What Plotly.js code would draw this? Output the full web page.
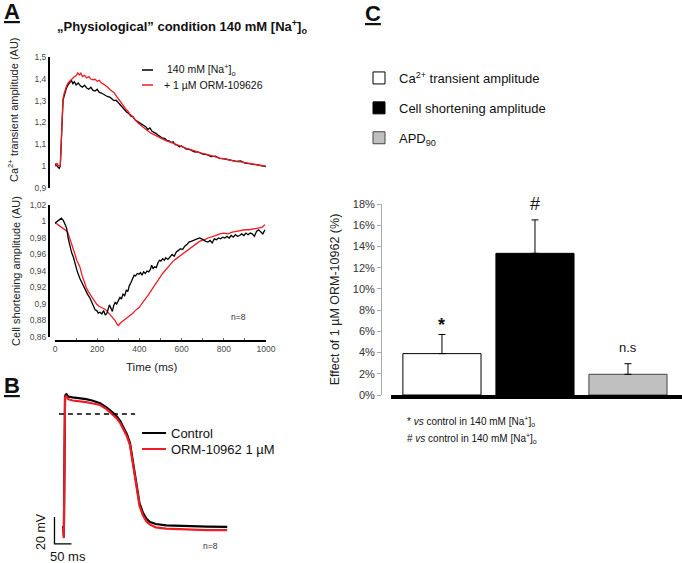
<!DOCTYPE html>
<html><head><meta charset="utf-8">
<script src="https://cdn.plot.ly/plotly-3.0.1.min.js"></script>
<style>html,body{margin:0;padding:0;background:#fff}#chart{width:682px;height:563px}</style>
</head><body><div id="chart"></div>
<script>
// ---------- Panel A: Ca2+ transient (AU) ----------
const caTime = [0,5,10,15,20,25,28,31,34,38,43,48,55,62,70,78,85,92,100,110,120,130,140,150,160,170,180,190,200,210,220,230,240,250,260,270,280,290,300,310,320,330,340,350,360,370,380,390,400,410,420,430,440,450,460,470,480,490,500,510,520,530,540,550,560,570,580,590,600,620,640,660,680,700,720,740,760,780,800,820,840,860,880,900,920,940,960,980,1000];
const caControl = [1.00,1.012,1.0,0.995,0.99,1.0,1.08,1.18,1.26,1.30,1.32,1.34,1.36,1.372,1.385,1.392,1.378,1.387,1.372,1.381,1.368,1.362,1.371,1.358,1.352,1.361,1.347,1.344,1.352,1.338,1.335,1.329,1.326,1.318,1.316,1.309,1.30,1.302,1.29,1.28,1.268,1.259,1.247,1.241,1.229,1.226,1.211,1.205,1.198,1.192,1.184,1.181,1.168,1.175,1.16,1.156,1.149,1.141,1.136,1.128,1.127,1.118,1.116,1.108,1.112,1.098,1.096,1.089,1.092,1.079,1.076,1.066,1.064,1.055,1.053,1.044,1.046,1.036,1.034,1.031,1.026,1.022,1.024,1.014,1.012,1.009,1.006,1.001,0.998];
const caDrugTime = [0,5,10,15,20,25,28,31,34,38,43,48,55,62,70,78,85,92,100,108,115,122,130,140,150,160,170,180,190,200,210,220,230,240,250,261,270,280,293,305,315,325,335,345,355,365,375,385,395,405,415,425,435,445,455,465,475,485,495,510,525,540,555,570,585,600,620,640,660,680,700,720,740,760,780,800,820,840,860,880,900,920,940,960,980,1000];
const caDrug = [1.0,1.006,1.012,1.004,1.0,1.002,1.09,1.2,1.28,1.31,1.332,1.35,1.368,1.381,1.389,1.396,1.402,1.41,1.414,1.427,1.418,1.426,1.41,1.416,1.404,1.41,1.399,1.396,1.398,1.389,1.393,1.381,1.376,1.37,1.361,1.35,1.344,1.336,1.318,1.302,1.287,1.275,1.262,1.253,1.238,1.23,1.216,1.207,1.196,1.188,1.178,1.171,1.162,1.158,1.151,1.146,1.139,1.136,1.13,1.124,1.117,1.112,1.106,1.101,1.097,1.09,1.083,1.077,1.07,1.066,1.058,1.054,1.048,1.043,1.037,1.035,1.03,1.027,1.021,1.02,1.016,1.012,1.008,1.004,1.003,1.0];
const caTickVals = [0.9,1.0,1.1,1.2,1.3,1.4,1.5];
const caTickText = ['0,9','1','1,1','1,2','1,3','1,4','1,5'];

// ---------- Panel A: cell shortening (AU) ----------
const csTime = [0,10,20,30,40,48,55,62,71,79,87,96,106,118,130,142,154,166,178,190,198,205,213,222,230,238,245,252,258,265,272,278,285,292,300,308,315,322,330,338,345,352,360,368,375,382,390,398,405,412,420,428,436,444,452,458,465,472,480,488,495,502,510,518,525,535,545,555,565,575,585,595,605,615,625,635,645,655,665,675,685,695,705,715,725,735,745,755,765,775,785,795,805,815,825,835,845,855,865,875,885,895,905,915,925,935,945,955,965,975,985,995];
const csControl = [0.998,1.0,1.002,1.004,1.001,0.996,0.992,0.98,0.969,0.962,0.957,0.948,0.939,0.931,0.924,0.917,0.912,0.907,0.9,0.893,0.892,0.889,0.89,0.888,0.892,0.887,0.888,0.894,0.899,0.895,0.891,0.898,0.902,0.9,0.905,0.908,0.906,0.912,0.91,0.917,0.915,0.922,0.926,0.93,0.935,0.934,0.937,0.936,0.938,0.935,0.939,0.937,0.94,0.939,0.942,0.947,0.943,0.945,0.944,0.95,0.953,0.952,0.955,0.953,0.956,0.954,0.957,0.96,0.958,0.963,0.965,0.967,0.966,0.97,0.972,0.975,0.976,0.977,0.978,0.979,0.98,0.979,0.977,0.976,0.975,0.977,0.974,0.979,0.978,0.98,0.979,0.981,0.98,0.982,0.98,0.983,0.981,0.984,0.982,0.983,0.985,0.983,0.986,0.984,0.986,0.985,0.982,0.988,0.99,0.987,0.985,0.99];
const csDrugTime = [0,10,20,30,40,50,58,63,70,78,86,95,103,110,118,128,138,148,158,170,183,197,210,222,235,245,255,265,276,285,293,300,310,320,330,340,350,360,370,380,390,400,410,420,430,440,450,460,470,480,490,500,510,520,530,545,560,575,590,605,620,635,650,665,680,695,710,725,740,760,780,800,820,840,860,880,900,920,940,960,980,995];
const csDrug = [0.998,0.997,0.995,0.993,0.991,0.989,0.988,0.985,0.98,0.974,0.969,0.96,0.953,0.949,0.945,0.935,0.926,0.92,0.915,0.91,0.905,0.9,0.897,0.896,0.894,0.892,0.889,0.885,0.882,0.88,0.876,0.874,0.877,0.879,0.881,0.882,0.884,0.886,0.889,0.892,0.894,0.896,0.9,0.903,0.906,0.91,0.914,0.918,0.922,0.926,0.93,0.934,0.937,0.94,0.943,0.948,0.952,0.955,0.958,0.961,0.964,0.967,0.969,0.972,0.975,0.977,0.978,0.98,0.981,0.983,0.985,0.986,0.985,0.987,0.988,0.989,0.99,0.99,0.991,0.992,0.993,0.996];
const csTickVals = [0.86,0.88,0.9,0.92,0.94,0.96,0.98,1.0,1.02];
const csTickText = ['0,86','0,88','0,9','0,92','0,94','0,96','0,98','1','1,02'];
const timeTickVals = [0,200,400,600,800,1000];

// ---------- Panel B: action potential (ms, mV) ----------
const apTime = [-6,-2,-0.5,1,3,6,12,25,45,65,85,106,125,135,146,156,166,174,185,194,203,210,215,222,232,242,253,270,300,350,420,480];
const apControl = [-84,-84,-91,-20,13,15,13,12.3,11.8,11,9.8,8,5,3,0.5,-2,-5.5,-9.6,-15,-21.5,-36,-46,-56,-66,-73,-77.5,-80,-81.5,-82.5,-83,-83.5,-83.7];
const apDrug = [-85,-85,-92,-20,12,13.5,11,10,9.6,8.8,7.8,6.7,3.6,1.5,-1,-3.5,-7,-11,-16.5,-23,-38,-48,-58,-68,-75,-79.5,-82,-84,-85,-85.5,-86,-86];
const apdRefTime = [-15,209];
const apdRefLevel = [0,0];
const scaleBarTime = [-28,-28,22];
const scaleBarVolt = [-76.3,-96.3,-96.3];

// ---------- Panel C: bar chart ----------
const barNames = ['Ca<sup>2+</sup> transient amplitude','Cell shortening amplitude','APD<sub>90</sub>'];
const barValues = [3.9,13.35,1.95];
const barErrors = [1.8,3.15,1.0];
const barLabels = ['<b>*</b>','#','n.s'];
const barFill = ['#ffffff','#000000','#c0c0c0'];
const pctTickVals = [0,2,4,6,8,10,12,14,16,18];
const pctTickText = pctTickVals.map(v => v + '%');

const W = 682, H = 563;
const fx = p => p / W;
const fy = p => 1 - p / H;
const FONT = 'Arial, "Liberation Sans", sans-serif';
const RED = '#ee1c24';

const traces = [
  {x: caTime, y: caControl, xaxis: 'x', yaxis: 'y', mode: 'lines', line: {color: '#000', width: 1.3}, showlegend: false, name: '140 mM [Na+]o'},
  {x: caDrugTime, y: caDrug, xaxis: 'x', yaxis: 'y', mode: 'lines', line: {color: RED, width: 1.3}, showlegend: false, name: '+ 1 µM ORM-109626'},
  {x: csDrugTime, y: csDrug, xaxis: 'x2', yaxis: 'y2', mode: 'lines', line: {color: RED, width: 1.3}, showlegend: false},
  {x: csTime, y: csControl, xaxis: 'x2', yaxis: 'y2', mode: 'lines', line: {color: '#000', width: 1.3}, showlegend: false},
  {x: apTime, y: apControl, xaxis: 'x3', yaxis: 'y3', mode: 'lines', line: {color: '#000', width: 2.2}, showlegend: false, name: 'Control'},
  {x: apTime, y: apDrug, xaxis: 'x3', yaxis: 'y3', mode: 'lines', line: {color: RED, width: 2.2}, showlegend: false, name: 'ORM-10962 1 µM'},
  {x: apdRefTime, y: apdRefLevel, xaxis: 'x3', yaxis: 'y3', mode: 'lines', line: {color: '#000', width: 1.5, dash: '5px,4px'}, showlegend: false},
  {x: scaleBarTime, y: scaleBarVolt, xaxis: 'x3', yaxis: 'y3', mode: 'lines', line: {color: '#000', width: 1.3}, showlegend: false}
];
barValues.forEach((v, i) => {
  traces.push({
    type: 'bar', x: [i], y: [v], name: barNames[i], xaxis: 'x4', yaxis: 'y4',
    width: 0.84, legendgroup: 'g' + i,
    marker: {color: barFill[i], line: {color: i === 2 ? '#444' : '#000', width: 1}},
    error_y: {type: 'data', symmetric: false, array: [barErrors[i]], arrayminus: [0], color: '#000', thickness: 1, width: 3.5}
  });
});

const ann = [];
const addText = (text, x, y, size, opts) => ann.push(Object.assign({
  text, x: fx(x), y: fy(y), xref: 'paper', yref: 'paper', showarrow: false,
  font: {family: FONT, size, color: '#111'}, xanchor: 'center', yanchor: 'middle'
}, opts || {}));

addText('<b><u>A</u></b>', 12, 11, 22);
addText('<b><u>B</u></b>', 12, 385, 22);
addText('<b><u>C</u></b>', 373, 14, 22);
addText('<b>„Physiological” condition 140 mM [Na<sup>+</sup>]<sub>o</sub></b>', 182, 27, 13);
addText('Ca<sup>2+</sup> transient amplitude (AU)', 13, 110, 11, {textangle: -90, font: {family: FONT, size: 11, color: '#222'}});
addText('Time (ms)', 151, 367, 11.5, {font: {family: FONT, size: 11.5, color: '#222'}});
addText('140 mM [Na<sup>+</sup>]<sub>o</sub>', 165, 70, 10.5, {xanchor: 'left'});
addText('+ 1 µM ORM-109626', 162, 85, 10.5, {xanchor: 'left'});
addText('n=8', 238, 317, 8.5, {font: {family: FONT, size: 8.5, color: '#333'}});
addText('Control', 169, 433, 13, {xanchor: 'left'});
addText('ORM-10962 1 µM', 169, 449, 13, {xanchor: 'left'});
addText('20 mV', 41, 532, 12.5, {textangle: -90});
addText('50 ms', 68, 556, 13);
addText('n=8', 210, 546, 8.5, {font: {family: FONT, size: 8.5, color: '#333'}});
addText('* <i>vs</i> control in 140 mM [Na<sup>+</sup>]<sub>o</sub>', 405, 421, 10, {xanchor: 'left'});
addText('# <i>vs</i> control in 140 mM [Na<sup>+</sup>]<sub>o</sub>', 405, 438, 10, {xanchor: 'left'});
// significance marks above each bar
const sigShift = [-2, 4, 7];
barLabels.forEach((t, i) => ann.push({
  text: t, x: i, y: barValues[i] + barErrors[i], xref: 'x4', yref: 'y4', showarrow: false,
  yanchor: 'bottom', yshift: sigShift[i],
  font: {family: FONT, size: i === 2 ? 13 : 18, color: '#111'}
}));

const shapes = [
  {type: 'line', xref: 'paper', yref: 'paper', x0: fx(142), x1: fx(153), y0: fy(70), y1: fy(70), line: {color: '#000', width: 1.5}},
  {type: 'line', xref: 'paper', yref: 'paper', x0: fx(142), x1: fx(153), y0: fy(85), y1: fy(85), line: {color: RED, width: 1.5}},
  {type: 'line', xref: 'paper', yref: 'paper', x0: fx(142), x1: fx(166), y0: fy(433), y1: fy(433), line: {color: '#000', width: 2}},
  {type: 'line', xref: 'paper', yref: 'paper', x0: fx(142), x1: fx(166), y0: fy(449), y1: fy(449), line: {color: RED, width: 2}}
];

const tickFontA = {family: FONT, size: 8.5, color: '#4a4a4a'};
const layout = {
  width: W, height: H, margin: {l: 0, r: 0, t: 0, b: 0},
  paper_bgcolor: '#fff', plot_bgcolor: 'rgba(0,0,0,0)',
  font: {family: FONT},
  barmode: 'overlay',
  xaxis: {domain: [fx(55), fx(266)], range: [0, 1000], visible: false, anchor: 'y'},
  yaxis: {domain: [fy(188), fy(57)], range: [0.9, 1.5], anchor: 'free', position: fx(49),
    showline: true, linecolor: '#000', linewidth: 2, showgrid: false, zeroline: false,
    tickvals: caTickVals, ticktext: caTickText, ticks: '', tickfont: tickFontA},
  xaxis2: {domain: [fx(55), fx(266)], range: [0, 1000], anchor: 'free', position: fy(341),
    showline: true, linecolor: '#000', linewidth: 2, showgrid: false, zeroline: false,
    tickvals: timeTickVals, ticks: 'inside', ticklen: 2, tickcolor: '#666', tickfont: tickFontA,
    minor: {dtick: 100, ticks: 'inside', ticklen: 2, tickcolor: '#666', showgrid: false}},
  yaxis2: {domain: [fy(337), fy(205)], range: [0.86, 1.02], anchor: 'free', position: fx(49),
    showline: true, linecolor: '#000', linewidth: 2, showgrid: false, zeroline: false,
    tickvals: csTickVals, ticktext: csTickText, ticks: '', tickfont: tickFontA,
    title: {text: 'Cell shortening amplitude (AU)', standoff: 6, font: {family: FONT, size: 11, color: '#222'}}},
  xaxis3: {domain: [fx(50), fx(240)], range: [-41.2, 517.6], visible: false, anchor: 'y3'},
  yaxis3: {domain: [fy(548), fy(390)], range: [-99.3, 17.8], visible: false, anchor: 'x3'},
  xaxis4: {domain: [fx(391), 1], range: [-0.548, 2.581], anchor: 'y4', showline: true, linecolor: '#000',
    linewidth: 4, showticklabels: false, ticks: '', showgrid: false, zeroline: false},
  yaxis4: {domain: [fy(395), fy(204)], range: [0, 18], anchor: 'free', position: fx(381),
    showline: true, linecolor: '#aaa', linewidth: 1, showgrid: false, zeroline: false,
    tickvals: pctTickVals, ticktext: pctTickText, ticks: 'outside', ticklen: 4, tickcolor: '#aaa',
    tickfont: {family: FONT, size: 11, color: '#333'},
    title: {text: 'Effect of 1 µM ORM-10962 (%)', standoff: 9, font: {family: FONT, size: 12.5, color: '#222'}}},
  showlegend: true,
  legend: {x: fx(359), y: fy(63), xanchor: 'left', yanchor: 'top', bgcolor: 'rgba(0,0,0,0)',
    traceorder: 'grouped', tracegroupgap: 10, font: {family: FONT, size: 13, color: '#111'}},
  annotations: ann, shapes: shapes
};

Plotly.newPlot('chart', traces, layout, {displayModeBar: false});
</script>
</body></html>
